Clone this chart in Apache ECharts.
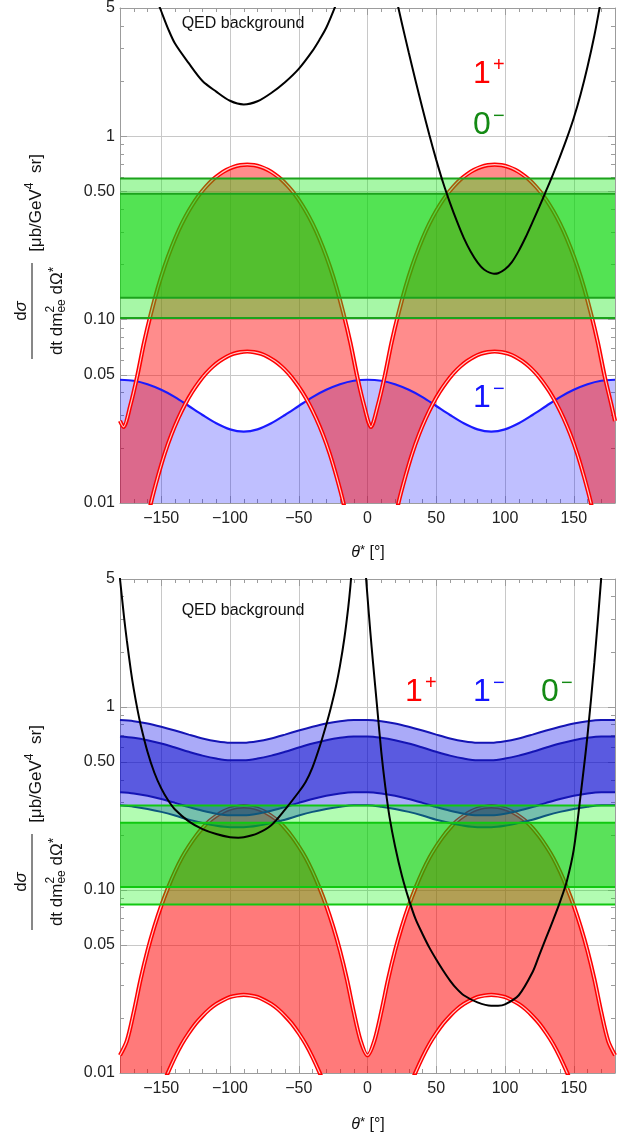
<!DOCTYPE html>
<html>
<head>
<meta charset="utf-8">
<title>Angular distributions</title>
<script src="https://cdn.jsdelivr.net/npm/echarts@6.0.0/dist/echarts.min.js"></script>
<style>
  html, body { margin: 0; padding: 0; background: #fff; }
  #container { width: 636px; height: 1136px; }
</style>
</head>
<body>
<div id="container"></div>
<script>
// ---- axes ----
const yMin = 0.01, yMax = 5;
const xMajor = [-150, -100, -50, 0, 50, 100, 150];
const xMinor = [-170, -160, -140, -130, -120, -110, -90, -80, -70, -60, -40, -30, -20, -10,
  10, 20, 30, 40, 60, 70, 80, 90, 110, 120, 130, 140, 160, 170];
const yMajor = [0.01, 0.05, 0.1, 0.5, 1, 5];
const yLabels = ['0.01', '0.05', '0.10', '0.50', '1', '5'];
const yMinor = [0.02, 0.03, 0.04, 0.06, 0.07, 0.08, 0.09, 0.2, 0.3, 0.4, 0.6, 0.7, 0.8, 0.9, 2, 3, 4];

// ---- top panel ----
const thetaTop = [-180, -177.5, -172.5, -167.5, -162.5, -157.5, -152.5, -147.5, -142.5, -137.5, -132.5,
  -127.5, -122.5, -117.5, -112.5, -107.5, -102.5, -97.5, -92.5, -87.5, -82.5, -77.5, -72.5, -67.5,
  -62.5, -57.5, -52.5, -47.5, -42.5, -37.5, -32.5, -27.5, -22.5, -17.5, -12.5, -7.5, -2.5, 2.5, 7.5,
  12.5, 17.5, 22.5, 27.5, 32.5, 37.5, 42.5, 47.5, 52.5, 57.5, 62.5, 67.5, 72.5, 77.5, 82.5, 87.5,
  92.5, 97.5, 102.5, 107.5, 112.5, 117.5, 122.5, 127.5, 132.5, 137.5, 142.5, 147.5, 152.5, 157.5,
  162.5, 167.5, 172.5, 177.5, 180];
const onePlusTopHi = [0.028, 0.026, 0.034, 0.049, 0.075, 0.108, 0.149, 0.196, 0.248, 0.305, 0.363,
  0.421, 0.478, 0.531, 0.580, 0.621, 0.655, 0.680, 0.695, 0.700, 0.695, 0.680, 0.655, 0.621, 0.580,
  0.531, 0.478, 0.421, 0.363, 0.305, 0.248, 0.196, 0.149, 0.108, 0.075, 0.049, 0.034, 0.026, 0.034,
  0.049, 0.075, 0.108, 0.149, 0.196, 0.248, 0.305, 0.363, 0.421, 0.478, 0.531, 0.580, 0.621, 0.655,
  0.680, 0.695, 0.700, 0.695, 0.680, 0.655, 0.621, 0.580, 0.531, 0.478, 0.421, 0.363, 0.305, 0.248,
  0.196, 0.149, 0.108, 0.075, 0.049, 0.034, 0.028];
const onePlusTopLo = [0.0025, 0.0024, 0.0029, 0.0044, 0.0067, 0.0100, 0.0139, 0.0186, 0.0237, 0.0291,
  0.0347, 0.0403, 0.0457, 0.0509, 0.0555, 0.0594, 0.0627, 0.0651, 0.0665, 0.0670, 0.0665, 0.0651,
  0.0627, 0.0594, 0.0555, 0.0509, 0.0457, 0.0403, 0.0347, 0.0291, 0.0237, 0.0186, 0.0139, 0.0100,
  0.0067, 0.0044, 0.0029, 0.0024, 0.0029, 0.0044, 0.0067, 0.0100, 0.0139, 0.0186, 0.0237, 0.0291,
  0.0347, 0.0403, 0.0457, 0.0509, 0.0555, 0.0594, 0.0627, 0.0651, 0.0665, 0.0670, 0.0665, 0.0651,
  0.0627, 0.0594, 0.0555, 0.0509, 0.0457, 0.0403, 0.0347, 0.0291, 0.0237, 0.0186, 0.0139, 0.0100,
  0.0067, 0.0044, 0.0029, 0.0025];
const thetaBlue = [-180, -170, -160, -150, -140, -130, -120, -110, -100, -90, -80, -70, -60, -50, -40,
  -30, -20, -10, 0, 10, 20, 30, 40, 50, 60, 70, 80, 90, 100, 110, 120, 130, 140, 150, 160, 170, 180];
const oneMinusTop = [0.0470, 0.0464, 0.0444, 0.0414, 0.0378, 0.0338, 0.0302, 0.0272, 0.0252, 0.0245,
  0.0252, 0.0272, 0.0302, 0.0338, 0.0378, 0.0414, 0.0444, 0.0464, 0.0470, 0.0464, 0.0444, 0.0414,
  0.0378, 0.0338, 0.0302, 0.0272, 0.0252, 0.0245, 0.0252, 0.0272, 0.0302, 0.0338, 0.0378, 0.0414,
  0.0444, 0.0464, 0.0470];
const zeroMinusTop = [0.102, 0.1315, 0.485, 0.588]; // outer lo, inner lo, inner hi, outer hi
const qedTopLTheta = [-155, -150, -145, -140, -130, -120, -110, -100, -90, -80, -70, -60, -50, -40, -35, -30, -23, -20];
const qedTopL = [6.0, 4.8, 3.85, 3.2, 2.5, 2.0, 1.75, 1.56, 1.49, 1.55, 1.72, 1.97, 2.33, 2.92, 3.35, 3.9, 5.2, 6.0];
const qedTopRTheta = [18, 20, 25, 30, 35, 40, 45, 50, 55, 60, 65, 70, 75, 80, 85, 92, 95, 100, 105, 110,
  115, 120, 125, 130, 135, 140, 145, 150, 155, 160, 165, 169, 172];
const qedTopR = [7.06, 6.04, 4.13, 2.86, 2.0, 1.416, 1.014, 0.743, 0.557, 0.433, 0.344, 0.279, 0.235,
  0.205, 0.187, 0.178, 0.179, 0.188, 0.206, 0.237, 0.281, 0.340, 0.413, 0.506, 0.622, 0.774, 0.975,
  1.256, 1.694, 2.393, 3.54, 5.12, 6.98];

// ---- bottom panel ----
const thetaBot = [-180, -175, -170, -165, -160, -155, -150, -145, -140, -135, -130, -125, -120, -115,
  -110, -105, -100, -95, -90, -85, -80, -75, -70, -65, -60, -55, -50, -45, -40, -35, -30, -25, -20, -15,
  -10, -5, 0, 5, 10, 15, 20, 25, 30, 35, 40, 45, 50, 55, 60, 65, 70, 75, 80, 85, 90, 95, 100, 105, 110,
  115, 120, 125, 130, 135, 140, 145, 150, 155, 160, 165, 170, 175, 180];
const onePlusBotHi = [0.0125, 0.0150, 0.0215, 0.0325, 0.0465, 0.063, 0.082, 0.103, 0.126, 0.150, 0.173,
  0.196, 0.218, 0.238, 0.254, 0.268, 0.278, 0.284, 0.286, 0.284, 0.278, 0.268, 0.254, 0.238, 0.218,
  0.196, 0.173, 0.150, 0.126, 0.103, 0.082, 0.063, 0.0465, 0.0325, 0.0215, 0.0150, 0.0125, 0.0150,
  0.0215, 0.0325, 0.0465, 0.063, 0.082, 0.103, 0.126, 0.150, 0.173, 0.196, 0.218, 0.238, 0.254, 0.268,
  0.278, 0.284, 0.286, 0.284, 0.278, 0.268, 0.254, 0.238, 0.218, 0.196, 0.173, 0.150, 0.126, 0.103,
  0.082, 0.063, 0.0465, 0.0325, 0.0215, 0.0150, 0.0125];
const onePlusBotLo = [0.0020, 0.0022, 0.0027, 0.0037, 0.0049, 0.0064, 0.0082, 0.0101, 0.0122, 0.0144,
  0.0165, 0.0186, 0.0205, 0.0223, 0.0238, 0.0250, 0.0260, 0.0265, 0.0267, 0.0265, 0.0260, 0.0250,
  0.0238, 0.0223, 0.0205, 0.0186, 0.0165, 0.0144, 0.0122, 0.0101, 0.0082, 0.0064, 0.0049, 0.0037,
  0.0027, 0.0022, 0.0020, 0.0022, 0.0027, 0.0037, 0.0049, 0.0064, 0.0082, 0.0101, 0.0122, 0.0144,
  0.0165, 0.0186, 0.0205, 0.0223, 0.0238, 0.0250, 0.0260, 0.0265, 0.0267, 0.0265, 0.0260, 0.0250,
  0.0238, 0.0223, 0.0205, 0.0186, 0.0165, 0.0144, 0.0122, 0.0101, 0.0082, 0.0064, 0.0049, 0.0037,
  0.0027, 0.0022, 0.0020];
const oneMinusOuterHi = [0.848, 0.836, 0.812, 0.779, 0.743, 0.706, 0.673, 0.649, 0.637, 0.637, 0.649,
  0.673, 0.706, 0.743, 0.779, 0.812, 0.836, 0.848, 0.848, 0.836, 0.812, 0.779, 0.743, 0.706, 0.673,
  0.649, 0.637, 0.637, 0.649, 0.673, 0.706, 0.743, 0.779, 0.812, 0.836, 0.848, 0.848];
const oneMinusInnerHi = [0.689, 0.678, 0.658, 0.631, 0.600, 0.569, 0.542, 0.522, 0.511, 0.511, 0.522,
  0.542, 0.569, 0.600, 0.631, 0.658, 0.678, 0.689, 0.689, 0.678, 0.658, 0.631, 0.600, 0.569, 0.542,
  0.522, 0.511, 0.511, 0.522, 0.542, 0.569, 0.600, 0.631, 0.658, 0.678, 0.689, 0.689];
const oneMinusInnerLo = [0.342, 0.337, 0.327, 0.314, 0.299, 0.284, 0.271, 0.261, 0.256, 0.256, 0.261,
  0.271, 0.284, 0.299, 0.314, 0.327, 0.337, 0.342, 0.342, 0.337, 0.327, 0.314, 0.299, 0.284, 0.271,
  0.261, 0.256, 0.256, 0.261, 0.271, 0.284, 0.299, 0.314, 0.327, 0.337, 0.342, 0.342];
const oneMinusOuterLo = [0.290, 0.285, 0.277, 0.267, 0.255, 0.242, 0.232, 0.224, 0.220, 0.220, 0.224,
  0.232, 0.242, 0.255, 0.267, 0.277, 0.285, 0.290, 0.290, 0.285, 0.277, 0.267, 0.255, 0.242, 0.232,
  0.224, 0.220, 0.220, 0.224, 0.232, 0.242, 0.255, 0.267, 0.277, 0.285, 0.290, 0.290];
const zeroMinusBot = [0.0834, 0.1037, 0.233, 0.289];
const qedBotLTheta = [-181, -180, -177, -175, -172, -170, -167.5, -165, -160, -155, -150, -145, -140,
  -130, -120, -110, -100, -94, -90, -80, -70, -60, -50, -45, -40, -35, -30, -26.5, -23, -20, -16.8, -14,
  -12.4, -11];
const qedBotL = [5.9, 5.0, 3.07, 2.30, 1.56, 1.25, 0.985, 0.80, 0.569, 0.437, 0.359, 0.309, 0.275, 0.237,
  0.215, 0.202, 0.194, 0.193, 0.194, 0.204, 0.226, 0.275, 0.343, 0.389, 0.468, 0.60, 0.80, 1.0, 1.29,
  1.68, 2.38, 3.50, 4.6, 6.2];
const qedBotRTheta = [-2, -1, 0, 2, 4, 7, 10, 13, 16, 20, 25, 30, 35, 40, 45, 50, 55, 60, 65, 70, 80, 90,
  95, 100, 110, 120, 125, 130, 135, 140, 145, 150, 155, 160, 165, 170, 172];
const qedBotR = [6.5, 5.0, 4.0, 2.6, 1.75, 1.0, 0.57, 0.363, 0.251, 0.174, 0.120, 0.0891, 0.0692, 0.0575,
  0.0484, 0.0417, 0.0363, 0.0320, 0.0288, 0.0266, 0.0243, 0.0233, 0.0233, 0.0237, 0.0266, 0.0355,
  0.0442, 0.055, 0.0684, 0.0861, 0.112, 0.166, 0.33, 0.70, 1.75, 5.1, 8.5];

// ---- helpers ----
const FAMILY = '"Liberation Sans", Arial, sans-serif';
const frameColor = '#9c9c9c';
const gridColor = '#c8c8c8';
const labelColor = '#222';

function fontOf(size, italic) {
  return (italic ? 'italic ' : '') + size + 'px ' + FAMILY;
}
const measureCtx = document.createElement('canvas').getContext('2d');
function widthOf(t, size, italic) {
  measureCtx.font = fontOf(size, italic);
  return measureCtx.measureText(t).width;
}

function angleLabel(v) {
  return v < 0 ? '\u2212' + Math.abs(v) : String(v);
}
function logLabel(v) {
  const i = yMajor.findIndex((t) => Math.abs(Math.log10(t) - Math.log10(v)) < 0.01);
  return i >= 0 ? yLabels[i] : '';
}

function xAxesFor(grid) {
  const base = {
    type: 'value', gridIndex: grid, min: -180, max: 180,
    axisLine: { show: false, onZero: false },
    axisLabel: { show: false },
    splitLine: { show: false },
  };
  const tick = (len, values) => ({ show: true, inside: true, length: len, customValues: values,
    lineStyle: { color: frameColor, width: 1 } });
  return [
    Object.assign({}, base, {
      position: 'bottom',
      axisLine: { show: true, onZero: false, lineStyle: { color: frameColor, width: 1 } },
      axisTick: tick(7, xMajor),
      axisLabel: { show: true, customValues: xMajor, formatter: angleLabel, margin: 8,
        fontFamily: FAMILY, fontSize: 16, color: labelColor },
      splitLine: { show: true, lineStyle: { color: gridColor, width: 1 } },
    }),
    Object.assign({}, base, { position: 'bottom', axisTick: tick(4, xMinor) }),
    Object.assign({}, base, {
      position: 'top',
      axisLine: { show: true, onZero: false, lineStyle: { color: frameColor, width: 1 } },
      axisTick: tick(7, xMajor),
    }),
    Object.assign({}, base, { position: 'top', axisTick: tick(4, xMinor) }),
  ];
}

function yAxesFor(grid) {
  const base = {
    type: 'log', logBase: 10, gridIndex: grid, min: yMin, max: yMax,
    axisLine: { show: false, onZero: false },
    axisLabel: { show: false },
    splitLine: { show: false },
  };
  const tick = (len, values) => ({ show: true, inside: true, length: len, customValues: values,
    lineStyle: { color: frameColor, width: 1 } });
  return [
    Object.assign({}, base, {
      position: 'left',
      axisLine: { show: true, onZero: false, lineStyle: { color: frameColor, width: 1 } },
      axisTick: tick(7, yMajor),
      axisLabel: { show: true, customValues: yMajor, formatter: logLabel, margin: 5,
        fontFamily: FAMILY, fontSize: 16, color: labelColor },
      splitLine: { show: true, lineStyle: { color: gridColor, width: 1 } },
    }),
    Object.assign({}, base, { position: 'left', axisTick: tick(4, yMinor) }),
    Object.assign({}, base, {
      position: 'right',
      axisLine: { show: true, onZero: false, lineStyle: { color: frameColor, width: 1 } },
      axisTick: tick(7, yMajor),
    }),
    Object.assign({}, base, { position: 'right', axisTick: tick(4, yMinor) }),
  ];
}

// filled region between two curves (numbers mean a constant level)
function band(axis, xs, lo, hi, color, z) {
  return {
    type: 'custom', xAxisIndex: axis, yAxisIndex: axis, z: z, clip: true, silent: true,
    data: [[0, 1]],
    renderItem: function (params, api) {
      const at = (arr, i) => (typeof arr === 'number' ? arr : arr[i]);
      const pts = [];
      for (let i = 0; i < xs.length; i++) pts.push(api.coord([xs[i], at(hi, i)]));
      for (let i = xs.length - 1; i >= 0; i--) pts.push(api.coord([xs[i], at(lo, i)]));
      return { type: 'polygon', shape: { points: pts }, style: { fill: color } };
    },
  };
}

function curve(axis, xs, ys, color, width, z) {
  return {
    type: 'line', xAxisIndex: axis, yAxisIndex: axis, z: z, silent: true,
    data: xs.map((x, i) => [x, ys[i]]),
    showSymbol: false, symbol: 'none', smooth: 0.3, clip: true,
    lineStyle: { color: color, width: width },
  };
}

// the 1+ boundaries are drawn as doubled red lines
function doubleRed(axis, xs, ys, z) {
  return [curve(axis, xs, ys, '#ff0000', 4.2, z), curve(axis, xs, ys, '#ffc6c6', 1.2, z + 1)];
}

function levelLines(axis, levels, color, z) {
  return levels.map((v) => curve(axis, [-180, 180], [v, v], color, 2, z));
}

// ---- text pieces ----
function runText(pieces, cx, cy, color) {
  const widths = pieces.map((p) => p.stack
    ? Math.max.apply(null, p.stack.map((s) => widthOf(s.t, s.size, s.italic)))
    : widthOf(p.t, p.size, p.italic));
  const total = widths.reduce((a, b) => a + b, 0);
  let x = cx - total / 2;
  const out = [];
  pieces.forEach((p, i) => {
    (p.stack || [p]).forEach((s) => out.push({
      type: 'text', x: x, y: cy + (s.dy || 0), z: 50,
      style: { text: s.t, font: fontOf(s.size, s.italic), fill: color,
        textAlign: 'left', textVerticalAlign: 'middle' },
    }));
    x += widths[i];
  });
  return out;
}

function yTitle(cy) {
  const kids = [].concat(
    runText([{ t: 'd', size: 17 }, { t: 'σ', size: 17, italic: true }], -56, -17, '#111'),
    [{ type: 'line', shape: { x1: -104, y1: -6, x2: -8, y2: -6 }, style: { stroke: '#111', lineWidth: 1 } }],
    runText([
      { t: 'dt dm', size: 17 },
      { stack: [{ t: '2', size: 12, dy: -6 }, { t: 'ee', size: 12, dy: 5 }] },
      { t: ' dΩ', size: 17 },
      { t: '*', size: 14, dy: -3 },
    ], -56, 19, '#111'),
    runText([{ t: '[μb/GeV', size: 17 }, { t: '4', size: 12, dy: -6 }, { t: '  sr]', size: 17 }], 52, -2, '#111')
  );
  return { type: 'group', x: 38, y: cy, rotation: Math.PI / 2, children: kids };
}

function xTitle(cy) {
  return runText([{ t: 'θ', size: 16, italic: true }, { t: '*', size: 13, dy: -3 }, { t: ' [°]', size: 16 }],
    368, cy, '#111');
}

function sign(x, y, main, sup, color) {
  return [
    { type: 'text', x: x, y: y, z: 50,
      style: { text: main, font: fontOf(32), fill: color, textAlign: 'left', textVerticalAlign: 'middle' } },
    { type: 'text', x: x + 20, y: y - 9, z: 50,
      style: { text: sup, font: fontOf(20), fill: color, textAlign: 'left', textVerticalAlign: 'middle' } },
  ];
}

function plainText(x, y, t) {
  return { type: 'text', x: x, y: y, z: 50,
    style: { text: t, font: fontOf(16), fill: '#111', textAlign: 'center', textVerticalAlign: 'middle' } };
}

const red = '#ff0000', blue = '#1414ff', green = '#148a14';

const series = [].concat(
  // top panel
  band(0, thetaBlue, yMin, oneMinusTop, 'rgba(0,0,255,0.25)', 2),
  band(0, thetaTop, onePlusTopLo, onePlusTopHi, 'rgba(255,0,0,0.45)', 3),
  curve(0, thetaBlue, oneMinusTop, '#1a1aff', 2.2, 4),
  doubleRed(0, thetaTop, onePlusTopHi, 5),
  doubleRed(0, thetaTop, onePlusTopLo, 5),
  band(0, [-180, 180], zeroMinusTop[0], zeroMinusTop[3], 'rgba(20,235,20,0.38)', 7),
  band(0, [-180, 180], zeroMinusTop[1], zeroMinusTop[2], 'rgba(0,207,0,0.5)', 8),
  levelLines(0, zeroMinusTop, '#1ca31c', 9),
  curve(0, qedTopLTheta, qedTopL, '#000', 2, 10),
  curve(0, qedTopRTheta, qedTopR, '#000', 2, 10),
  // bottom panel
  band(4, thetaBot, onePlusBotLo, onePlusBotHi, 'rgba(255,0,0,0.52)', 2),
  doubleRed(4, thetaBot, onePlusBotHi, 3),
  doubleRed(4, thetaBot, onePlusBotLo, 3),
  band(4, thetaBlue, oneMinusOuterLo, oneMinusOuterHi, 'rgba(0,0,235,0.333)', 5),
  band(4, thetaBlue, oneMinusInnerLo, oneMinusInnerHi, 'rgba(0,0,197,0.47)', 6),
  curve(4, thetaBlue, oneMinusOuterHi, '#1414b4', 2, 7),
  curve(4, thetaBlue, oneMinusInnerHi, '#1414b4', 2, 7),
  curve(4, thetaBlue, oneMinusInnerLo, '#1414b4', 2, 7),
  curve(4, thetaBlue, oneMinusOuterLo, '#1414b4', 2, 7),
  band(4, [-180, 180], zeroMinusBot[0], zeroMinusBot[3], 'rgba(0,245,0,0.30)', 8),
  band(4, [-180, 180], zeroMinusBot[1], zeroMinusBot[2], 'rgba(0,199,0,0.494)', 9),
  levelLines(4, zeroMinusBot, '#10c810', 10),
  curve(4, qedBotLTheta, qedBotL, '#000', 2, 11),
  curve(4, qedBotRTheta, qedBotR, '#000', 2, 11)
);

const graphics = [].concat(
  [yTitle(255), yTitle(826)],
  xTitle(553), xTitle(1125),
  [plainText(243, 24, 'QED background'), plainText(243, 611, 'QED background')],
  sign(473, 74, '1', '+', red), sign(473, 125, '0', '\u2212', green), sign(473, 398, '1', '\u2212', blue),
  sign(405, 692, '1', '+', red), sign(473, 692, '1', '\u2212', blue), sign(541, 692, '0', '\u2212', green)
);

const myChart = echarts.init(document.getElementById('container'));
const option = {
  animation: false,
  backgroundColor: '#fff',
  grid: [
    { left: 120, top: 8, width: 495, height: 495, containLabel: false, outerBoundsMode: 'none' },
    { left: 120, top: 579, width: 495, height: 494, containLabel: false, outerBoundsMode: 'none' },
  ],
  xAxis: xAxesFor(0).concat(xAxesFor(1)),
  yAxis: yAxesFor(0).concat(yAxesFor(1)),
  series: series,
  graphic: { elements: graphics },
};
myChart.setOption(option);
</script>
</body>
</html>
